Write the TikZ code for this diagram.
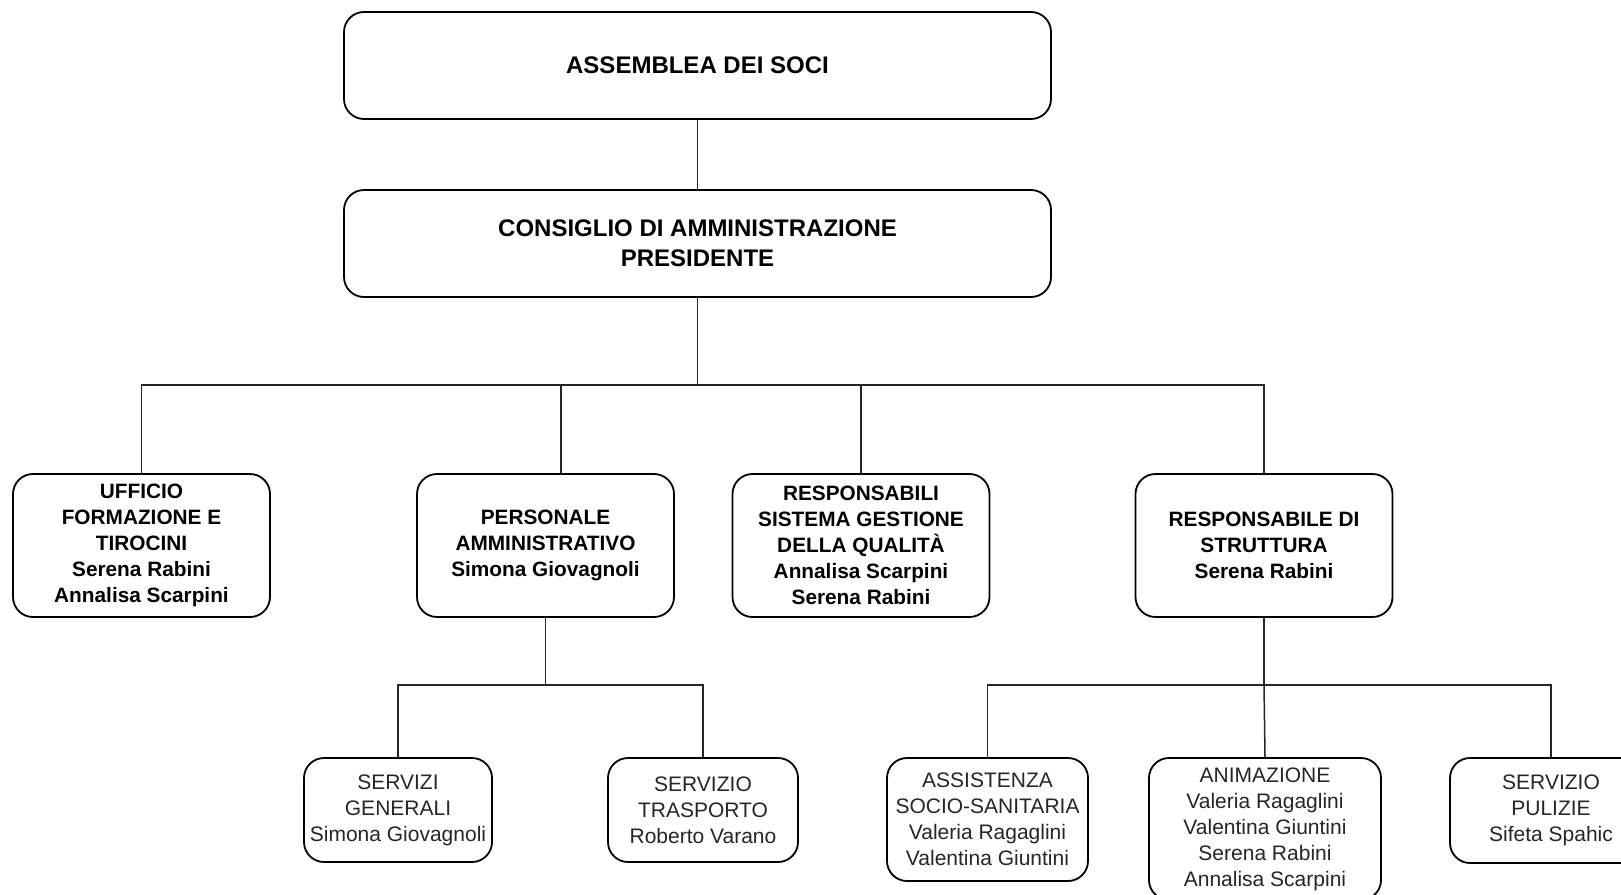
\documentclass[tikz,border=0pt]{standalone}
\usepackage{fontspec}
\setmainfont{Liberation Sans}
\usepackage{tikz}
\usetikzlibrary{positioning}

\begin{document}
\begin{tikzpicture}[x=0.5pt, y=-0.5pt,
    topbox/.style={draw, line width=0.9pt, rounded corners=10pt, align=center, inner sep=0pt,
        font=\bfseries\fontsize{12}{15}\selectfont, minimum width=353.5pt, minimum height=53.5pt},
    midbox/.style={draw, line width=0.9pt, rounded corners=10pt, align=center, inner sep=0pt,
        font=\bfseries\fontsize{10.4}{13}\selectfont, minimum width=128.5pt, minimum height=71.5pt},
    lowbox/.style={draw, line width=0.9pt, rounded corners=10pt, align=center, inner sep=0pt,
        font=\fontsize{10.5}{13}\selectfont, text=black!85},
    link/.style={line width=0.75pt, black!85}]

        % page and crop
        \useasboundingbox (0,0) rectangle (1621,894);
        \clip (0,0) rectangle (1621,894);
        \fill[white] (0,0) rectangle (1621,894);

        % top of the chart
        \node[topbox] (asm) at (697.5,65.5) {ASSEMBLEA DEI SOCI};
        \node[topbox] (cda) at (697.5,243.5) {CONSIGLIO DI AMMINISTRAZIONE\\PRESIDENTE};

        % second row
        \node[midbox] (uff) at (141.5,545.5) {UFFICIO\\FORMAZIONE E\\TIROCINI\\Serena Rabini\\Annalisa Scarpini};
        \node[midbox] (pers) at (545.5,545.5) {PERSONALE\\AMMINISTRATIVO\\Simona Giovagnoli};
        \node[midbox] (rsgq) at (861,545.5) {RESPONSABILI\\SISTEMA GESTIONE\\DELLA QUALIT\`A\\Annalisa Scarpini\\Serena Rabini};
        \node[midbox] (rds) at (1264,545.5) {RESPONSABILE DI\\STRUTTURA\\Serena Rabini};

        % third row
        \node[lowbox, minimum width=94pt, minimum height=52pt] (sg) at (398,810) {SERVIZI\\GENERALI\\Simona Giovagnoli};
        \node[lowbox, minimum width=95pt, minimum height=52pt] (st) at (703,810) {SERVIZIO\\TRASPORTO\\Roberto Varano};
        \node[lowbox, minimum width=100.5pt, minimum height=61.5pt] (ass) at (987.5,819.5) {ASSISTENZA\\SOCIO-SANITARIA\\Valeria Ragaglini\\Valentina Giuntini};
        \node[lowbox, minimum width=116pt, minimum height=71pt] (anim) at (1265,829) {ANIMAZIONE\\Valeria Ragaglini\\Valentina Giuntini\\Serena Rabini\\Annalisa Scarpini};
        \node[lowbox, minimum width=101pt, minimum height=52.5pt] (pul) at (1551,810.5) {SERVIZIO\\PULIZIE\\Sifeta Spahic};

        % bus lines
        \coordinate (busa) at (697.5,385);
        \coordinate (busb) at (545.5,685);
        \coordinate (busc) at (1264,685);

        % connectors
        \draw[link] (asm) -- (cda);
        \draw[link] (cda) -- (busa);
        \draw[link] (uff.north) -- (uff.north |- busa) -- (rds.north |- busa) -- (rds.north);
        \draw[link] ([xshift=7.75pt]pers.north) -- ([xshift=7.75pt]pers.north |- busa);
        \draw[link] (rsgq.north) -- (rsgq.north |- busa);

        \draw[link] (pers.south) -- (busb);
        \draw[link] (sg.north) -- (sg.north |- busb) -- (st.north |- busb) -- (st.north);

        \draw[link] (rds.south) -- (busc);
        \draw[link] (ass.north) -- (ass.north |- busc) -- (pul.north |- busc) -- (pul.north);
        \draw[link] (busc) -- (anim.north);

\end{tikzpicture}
\end{document}
